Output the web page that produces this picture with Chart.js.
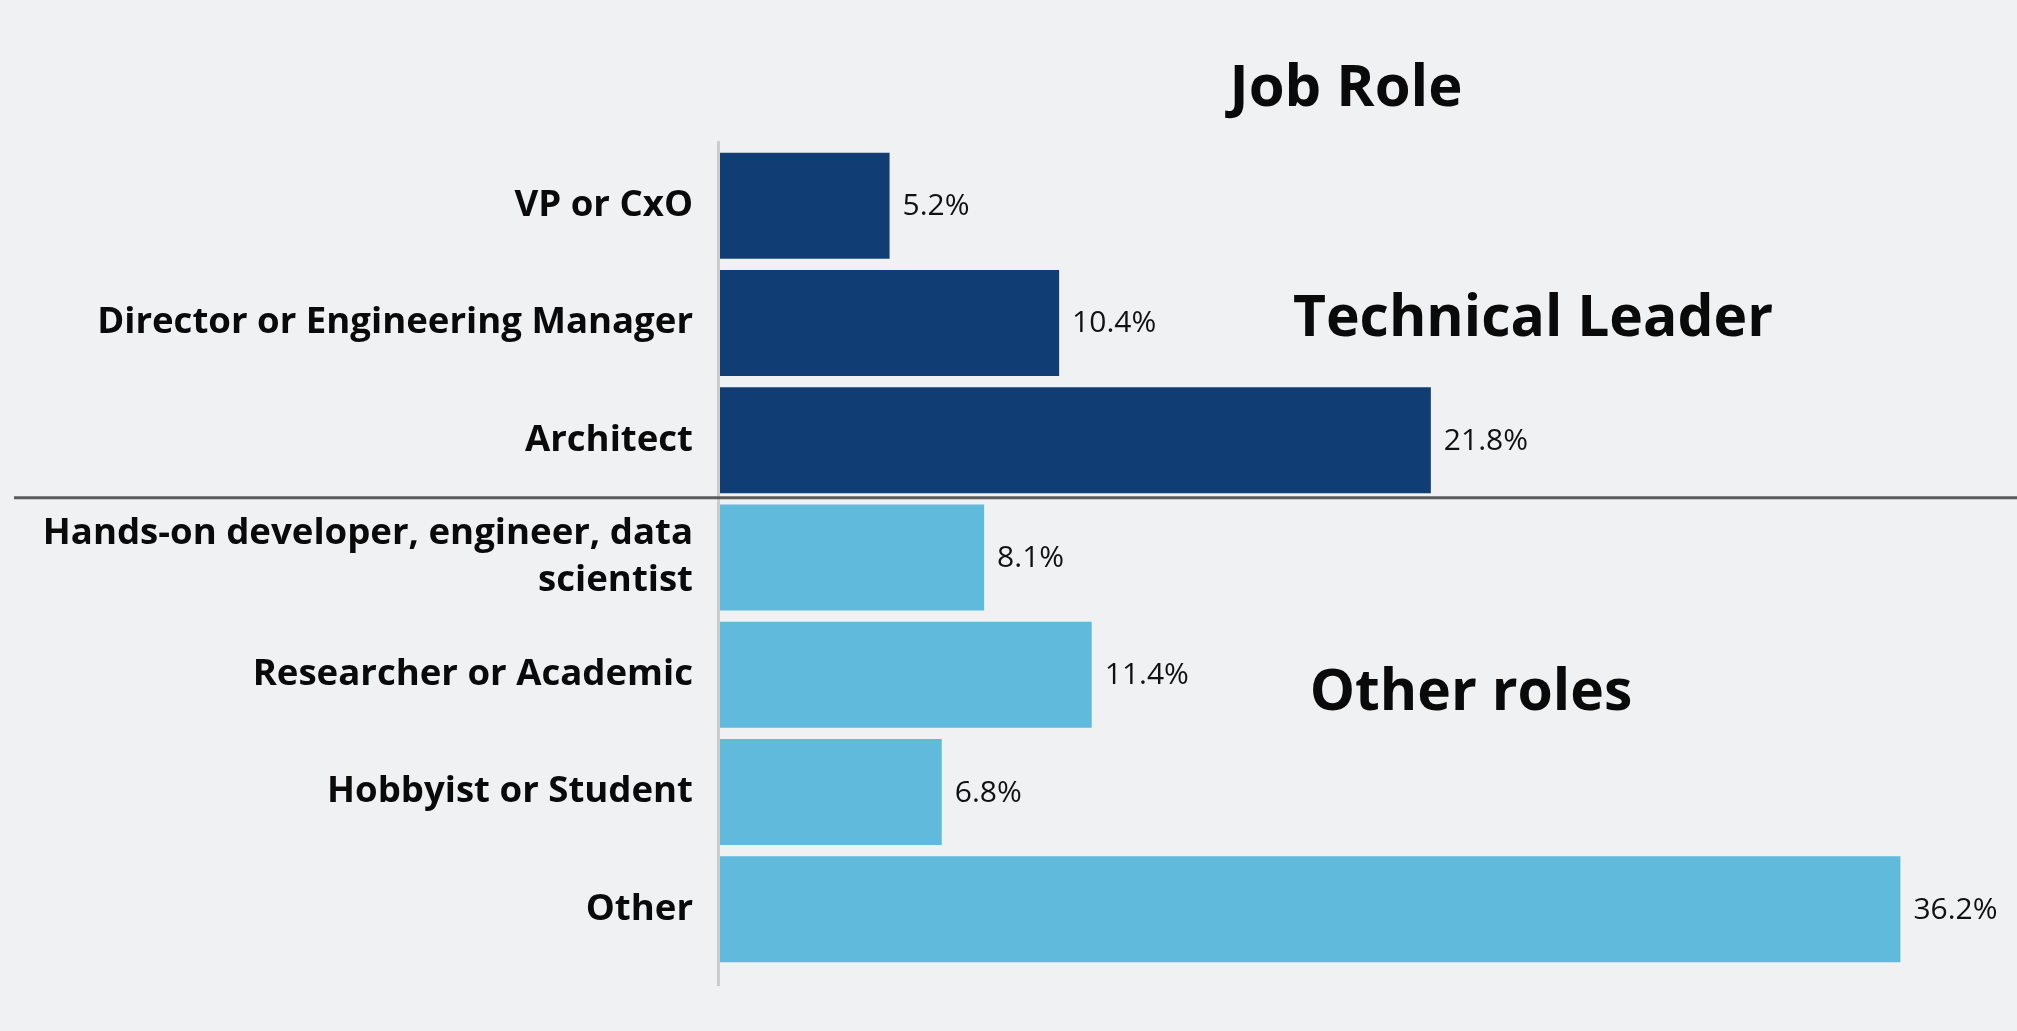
<!DOCTYPE html>
<html>
<head>
<meta charset="utf-8">
<title>Job Role</title>
<script src="https://cdn.jsdelivr.net/npm/chart.js@4.4.1/dist/chart.umd.min.js"></script>
<style>
  html, body { margin: 0; padding: 0; background: #f0f1f3; }
  #wrap { width: 2017px; height: 1031px; }
</style>
</head>
<body>
<div id="wrap"><canvas id="roleChart" width="2017" height="1031"></canvas></div>
<script>
const roleLabels = [
    "VP or CxO",
    "Director or Engineering Manager",
    "Architect",
    ["Hands-on developer, engineer, data", "scientist"],
    "Researcher or Academic",
    "Hobbyist or Student",
    "Other"
];
const roleShares = [5.2, 10.4, 21.8, 8.1, 11.4, 6.8, 36.2];
const roleGroups = ["leader", "leader", "leader", "other", "other", "other", "other"];

const groupColors = { leader: "#103d74", other: "#5fbadc" };
const boldFont = "'Open Sans', 'Noto Sans', sans-serif";

var ctx = document.getElementById("roleChart");

// extra drawing: axis line, group separator, group names, value labels, title
const extrasPlugin = {
    id: "extras",
    afterDatasetsDraw(chart) {
        const c = chart.ctx;
        const area = chart.chartArea;
        const y = chart.scales.y;
        c.save();

        // vertical axis line
        c.strokeStyle = "#cdcdcf";
        c.lineWidth = 3;
        c.beginPath();
        c.moveTo(area.left - 1.5, area.top - 6);
        c.lineTo(area.left - 1.5, area.bottom + 18);
        c.stroke();

        // separator between the two groups
        const sepY = (y.getPixelForValue(2) + y.getPixelForValue(3)) / 2 - 1;
        c.strokeStyle = "#5b5b5b";
        c.lineWidth = 3;
        c.beginPath();
        c.moveTo(14, sepY);
        c.lineTo(chart.width, sepY);
        c.stroke();

        // value labels
        const meta = chart.getDatasetMeta(0);
        c.fillStyle = "#111111";
        c.font = "30px " + boldFont;
        c.textAlign = "left";
        c.textBaseline = "middle";
        meta.data.forEach((bar, i) => {
            c.fillText(roleShares[i].toFixed(1) + "%", bar.x + 13, bar.y + 1);
        });

        // title and group names
        c.fillStyle = "#0a0a0a";
        c.textAlign = "center";
        c.textBaseline = "alphabetic";
        c.font = "bold 58px " + boldFont;
        c.fillText("Job Role", 1346, 106);
        c.font = "bold 57px " + boldFont;
        c.fillText("Technical Leader", 1533, 336);
        c.fillText("Other roles", 1471, 710);

        c.restore();
    }
};

let roleChart = new Chart(ctx, {
    type: "bar",
    data: {
        labels: roleLabels,
        datasets: [{
            label: "Job Role",
            data: roleShares,
            backgroundColor: roleGroups.map(g => groupColors[g]),
            borderWidth: 0,
            barPercentage: 0.904,
            categoryPercentage: 1
        }]
    },
    options: {
        indexAxis: "y",
        responsive: false,
        animation: false,
        layout: {
            padding: { top: 147, bottom: 63, left: 0, right: 9 }
        },
        plugins: {
            legend: { display: false },
            title: { display: false },
            tooltip: { enabled: false }
        },
        scales: {
            x: {
                display: false,
                min: 0,
                max: 39.5
            },
            y: {
                grid: { display: false, drawTicks: false },
                border: { display: false },
                afterFit: (scale) => { scale.width = 720; },
                ticks: {
                    color: "#0a0a0a",
                    padding: 27,
                    font: { family: boldFont, size: 36.6, weight: "bold", lineHeight: 1.28 }
                }
            }
        }
    },
    plugins: [extrasPlugin]
});
</script>
</body>
</html>
